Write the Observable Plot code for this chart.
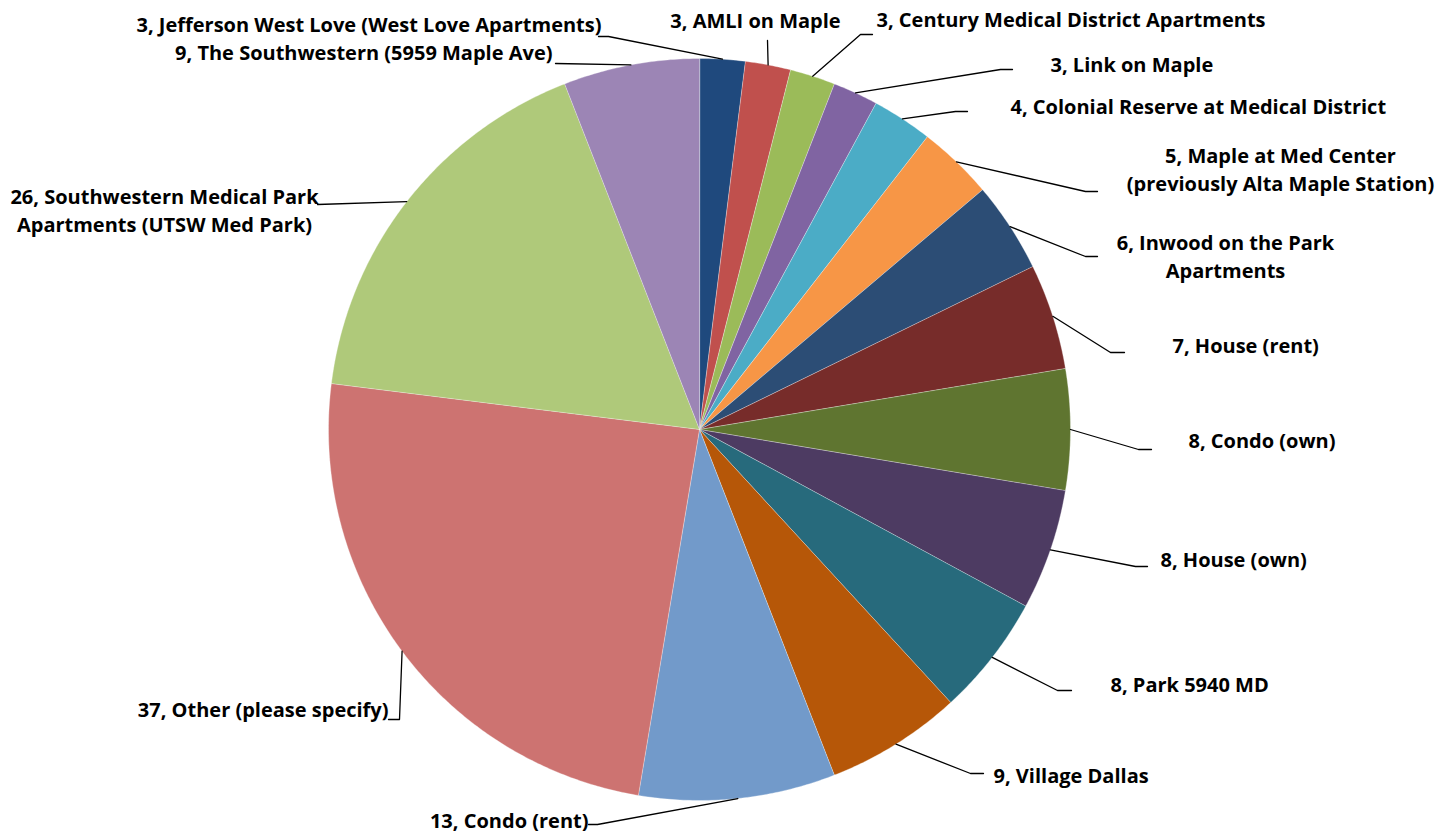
<!DOCTYPE html>
<html>
<head>
<meta charset="utf-8">
<script src="https://cdn.jsdelivr.net/npm/d3@7"></script>
<script src="https://cdn.jsdelivr.net/npm/@observablehq/plot@0.6"></script>
<style>
  html, body { margin: 0; padding: 0; background: #ffffff; }
  #chart svg { display: block; }
</style>
</head>
<body>
<div id="chart"></div>
<script>
// ---- Data (clockwise from 12 o'clock) ----
const residences = [
  "Jefferson West Love (West Love Apartments)",
  "AMLI on Maple",
  "Century Medical District Apartments",
  "Link on Maple",
  "Colonial Reserve at Medical District",
  "Maple at Med Center (previously Alta Maple Station)",
  "Inwood on the Park Apartments",
  "House (rent)",
  "Condo (own)",
  "House (own)",
  "Park 5940 MD",
  "Village Dallas",
  "Condo (rent)",
  "Other (please specify)",
  "Southwestern Medical Park Apartments (UTSW Med Park)",
  "The Southwestern (5959 Maple Ave)"
];
const counts = [3, 3, 3, 3, 4, 5, 6, 7, 8, 8, 8, 9, 13, 37, 26, 9];
const sliceColors = [
  "#1F497D", "#C0504D", "#9BBB59", "#8064A2", "#4BACC6", "#F79646",
  "#2C4D75", "#772C2A", "#5F7530", "#4D3B62", "#276A7C", "#B65708",
  "#729ACA", "#CD7371", "#AFC97A", "#9C85B5"
];

// ---- Layout (pixels) ----
const W = 1440, H = 831;
const cx = 699, cy = 429, R = 371;
const FONT = 20;
// label placement: anchor, text x, last-line baseline y, leader-line points after the arc midpoint, line break after
const labelLayout = [
  {anchor: "end",    tx: 601,  ty: 31,  pts: [[608, 36], [598, 36]]},
  {anchor: "middle", tx: 755,  ty: 27,  pts: [[767, 40]]},
  {anchor: "start",  tx: 876,  ty: 26,  pts: [[860, 34], [872, 34]]},
  {anchor: "start",  tx: 1050, ty: 71,  pts: [[1000, 69], [1012, 69]]},
  {anchor: "start",  tx: 1010, ty: 113, pts: [[955, 111], [967, 111]]},
  {anchor: "middle", tx: 1280, ty: 190, pts: [[1085, 191], [1097, 191]], br: "Center "},
  {anchor: "middle", tx: 1225, ty: 277, pts: [[1085, 256], [1097, 256]], br: "Park "},
  {anchor: "start",  tx: 1172, ty: 352, pts: [[1110, 352], [1124, 352]]},
  {anchor: "start",  tx: 1188, ty: 447, pts: [[1138, 449], [1151, 449]]},
  {anchor: "start",  tx: 1160, ty: 566, pts: [[1135, 566], [1147, 566]]},
  {anchor: "start",  tx: 1110, ty: 691, pts: [[1057, 690], [1071, 690]]},
  {anchor: "start",  tx: 993,  ty: 782, pts: [[970, 773], [983, 773]]},
  {anchor: "end",    tx: 588,  ty: 827, pts: [[597, 824], [588, 824]]},
  {anchor: "end",    tx: 388,  ty: 716, pts: [[399, 719], [388, 719]]},
  {anchor: "middle", tx: 164,  ty: 231, pts: [[317, 204]], br: "Park "},
  {anchor: "end",    tx: 552,  ty: 59,  pts: [[555, 63]]}
];

// ---- Geometry from data via d3.pie ----
const arcs = d3.pie().sort(null).value(d => d)(counts);
const polar = (a, r) => [cx + r * Math.sin(a), cy - r * Math.cos(a)];

const slicePts = [];
arcs.forEach((a, i) => {
  const n = Math.max(2, Math.ceil((a.endAngle - a.startAngle) / (Math.PI / 360)));
  slicePts.push({i, x: cx, y: cy});
  for (let j = 0; j <= n; j++) {
    const ang = a.startAngle + (a.endAngle - a.startAngle) * j / n;
    const [x, y] = polar(ang, R);
    slicePts.push({i, x, y});
  }
});

const leaderPts = [];
const labels = [];
arcs.forEach((a, i) => {
  const L = labelLayout[i];
  const mid = (a.startAngle + a.endAngle) / 2;
  const [mx, my] = polar(mid, R);
  leaderPts.push({i, x: mx, y: my});
  L.pts.forEach(([x, y]) => leaderPts.push({i, x, y}));
  let txt = `${counts[i]}, ${residences[i]}`;
  if (L.br) {
    const p = txt.indexOf(L.br) + L.br.length;
    txt = txt.slice(0, p).trimEnd() + "\n" + txt.slice(p);
  }
  labels.push({i, x: L.tx, y: L.ty, text: txt, anchor: L.anchor});
});

const textMark = anchor => Plot.text(labels.filter(d => d.anchor === anchor), {
  x: "x", y: "y", text: "text",
  textAnchor: anchor, lineAnchor: "bottom", lineHeight: 1.4,
  fontSize: FONT, fontWeight: "bold", fontFamily: "'Open Sans', Lato, sans-serif",
  fill: "#000000"
});

const chart = Plot.plot({
  width: W, height: H,
  margin: 0,
  x: {domain: [0, W], range: [0, W], axis: null},
  y: {domain: [0, H], range: [0, H], axis: null},
  color: {type: "identity"},
  style: {background: "#ffffff", overflow: "visible"},
  marks: [
    Plot.line(slicePts, {
      x: "x", y: "y", z: "i",
      fill: d => sliceColors[d.i],
      stroke: "#ffffff", strokeWidth: 0.6, strokeOpacity: 0.55,
      curve: "linear-closed"
    }),
    Plot.line(leaderPts, {
      x: "x", y: "y", z: "i",
      stroke: "#000000", strokeWidth: 1.3, curve: "linear"
    }),
    textMark("start"),
    textMark("middle"),
    textMark("end")
  ]
});
document.getElementById("chart").appendChild(chart);
</script>
</body>
</html>
